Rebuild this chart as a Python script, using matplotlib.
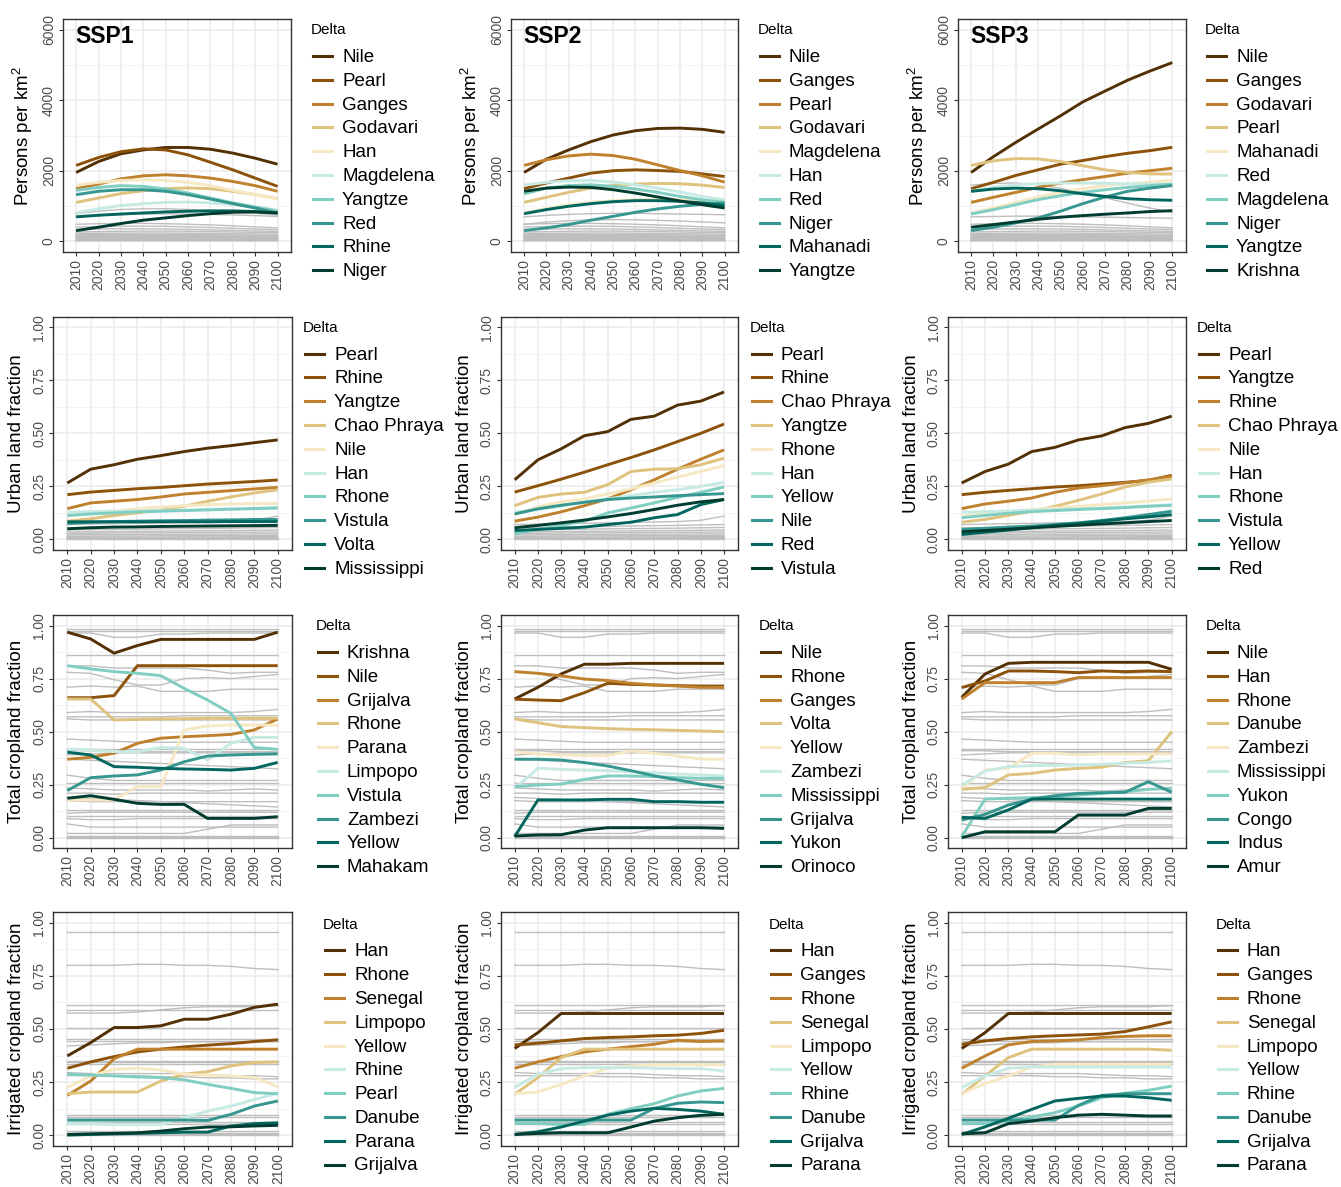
import matplotlib
matplotlib.use("Agg")
import matplotlib.pyplot as plt
from matplotlib.lines import Line2D

plt.rcParams['font.family'] = ['Liberation Sans', 'DejaVu Sans']
plt.rcParams['mathtext.default'] = 'regular'

years = [2010, 2020, 2030, 2040, 2050, 2060, 2070, 2080, 2090, 2100]
ssps = ['SSP1', 'SSP2', 'SSP3']
# BrBG without the middle grey
colors = ['#543005', '#8C510A', '#BF812D', '#DFC27D', '#F6E8C3',
          '#C7EAE5', '#80CDC1', '#35978F', '#01665E', '#003C30']

# ---------------- population density ----------------
pop1_names = ['Nile', 'Pearl', 'Ganges', 'Godavari', 'Han', 'Magdelena', 'Yangtze', 'Red', 'Rhine', 'Niger']
pop1 = [
    [1950, 2260, 2480, 2590, 2660, 2660, 2610, 2500, 2355, 2185],
    [2150, 2375, 2540, 2620, 2590, 2450, 2240, 2025, 1790, 1555],
    [1490, 1620, 1770, 1855, 1885, 1855, 1790, 1695, 1575, 1415],
    [1100, 1225, 1350, 1430, 1490, 1510, 1490, 1415, 1320, 1205],
    [1590, 1670, 1725, 1745, 1725, 1670, 1575, 1440, 1320, 1195],
    [800, 915, 1010, 1065, 1100, 1110, 1085, 1035, 970, 875],
    [1440, 1525, 1575, 1555, 1480, 1365, 1225, 1085, 970, 850],
    [1320, 1415, 1460, 1460, 1415, 1320, 1195, 1065, 940, 800],
    [690, 735, 770, 800, 830, 850, 860, 860, 840, 800],
    [300, 395, 500, 595, 660, 725, 780, 820, 830, 800],
]
pop2_names = ['Nile', 'Ganges', 'Pearl', 'Godavari', 'Magdelena', 'Han', 'Red', 'Niger', 'Mahanadi', 'Yangtze']
pop2 = [
    [1950, 2325, 2590, 2825, 3015, 3135, 3200, 3210, 3175, 3090],
    [1490, 1650, 1790, 1930, 2000, 2025, 2005, 1980, 1910, 1835],
    [2150, 2310, 2420, 2470, 2430, 2325, 2165, 2005, 1855, 1675],
    [1100, 1245, 1385, 1505, 1580, 1620, 1640, 1630, 1590, 1525],
    [800, 930, 1030, 1100, 1150, 1180, 1190, 1180, 1160, 1120],
    [1590, 1670, 1715, 1725, 1675, 1600, 1505, 1395, 1270, 1175],
    [1340, 1505, 1580, 1600, 1555, 1480, 1385, 1270, 1175, 1100],
    [300, 375, 470, 595, 705, 820, 915, 990, 1045, 1085],
    [780, 895, 990, 1065, 1120, 1150, 1150, 1130, 1085, 1010],
    [1415, 1505, 1535, 1525, 1460, 1365, 1255, 1140, 1035, 940],
]
pop3_names = ['Nile', 'Ganges', 'Godavari', 'Pearl', 'Mahanadi', 'Red', 'Magdelena', 'Niger', 'Yangtze', 'Krishna']
pop3 = [
    [1950, 2400, 2805, 3185, 3560, 3955, 4265, 4570, 4830, 5070],
    [1490, 1670, 1865, 2025, 2185, 2290, 2400, 2495, 2570, 2665],
    [1100, 1245, 1385, 1525, 1650, 1745, 1835, 1930, 2000, 2070],
    [2150, 2280, 2345, 2335, 2260, 2140, 2025, 1950, 1910, 1905],
    [800, 940, 1100, 1255, 1385, 1490, 1575, 1630, 1675, 1725],
    [1415, 1535, 1600, 1630, 1650, 1650, 1640, 1630, 1620, 1620],
    [770, 895, 1035, 1180, 1290, 1385, 1460, 1525, 1575, 1620],
    [300, 395, 520, 660, 850, 1065, 1255, 1415, 1505, 1580],
    [1415, 1480, 1505, 1490, 1430, 1345, 1270, 1205, 1175, 1160],
    [395, 470, 545, 620, 680, 725, 765, 800, 840, 865],
]
pop_gray = [
    [480, 495, 505, 505, 495, 480, 460, 435, 405, 375],
    [400, 415, 425, 425, 420, 405, 385, 365, 345, 325],
    [330, 345, 350, 350, 345, 335, 320, 305, 290, 275],
    [260, 270, 280, 285, 285, 280, 270, 260, 250, 240],
    [215, 222, 227, 230, 230, 226, 220, 213, 206, 198],
    [180, 186, 190, 191, 190, 186, 181, 175, 170, 164],
    [150, 155, 158, 160, 160, 158, 155, 150, 146, 142],
    [125, 128, 131, 132, 132, 130, 128, 125, 122, 119],
    [100, 103, 105, 106, 106, 105, 103, 101, 99, 97],
    [80, 82, 84, 85, 85, 84, 83, 81, 79, 77],
    [60, 62, 63, 64, 64, 63, 62, 61, 60, 58],
    [40, 41, 42, 43, 43, 42, 42, 41, 40, 39],
    [22, 23, 24, 24, 24, 24, 23, 23, 22, 22],
    [8, 8, 9, 9, 9, 9, 9, 8, 8, 8],
]
pop1_gray = [
    [780, 850, 900, 920, 920, 900, 870, 830, 790, 740],
    [700, 730, 755, 770, 775, 770, 760, 745, 725, 700],
]
pop2_gray = [
    [690, 730, 760, 780, 790, 790, 780, 770, 760, 750],
    [480, 540, 580, 600, 610, 605, 590, 570, 545, 520],
]
pop3_gray = [
    [1590, 1640, 1650, 1600, 1500, 1370, 1230, 1080, 940, 820],
    [690, 700, 710, 710, 700, 690, 680, 670, 660, 650],
]

# ---------------- urban land fraction ----------------
urb1_names = ['Pearl', 'Rhine', 'Yangtze', 'Chao Phraya', 'Nile', 'Han', 'Rhone', 'Vistula', 'Volta', 'Mississippi']
urb1 = [
    [0.266, 0.331, 0.352, 0.378, 0.395, 0.414, 0.430, 0.442, 0.456, 0.469],
    [0.211, 0.223, 0.231, 0.239, 0.245, 0.253, 0.261, 0.267, 0.273, 0.280],
    [0.145, 0.172, 0.180, 0.188, 0.200, 0.214, 0.222, 0.230, 0.238, 0.245],
    [0.086, 0.097, 0.113, 0.125, 0.138, 0.156, 0.180, 0.200, 0.219, 0.234],
    [0.109, 0.122, 0.133, 0.144, 0.153, 0.159, 0.164, 0.167, 0.169, 0.169],
    [0.128, 0.131, 0.133, 0.134, 0.136, 0.138, 0.141, 0.144, 0.147, 0.150],
    [0.113, 0.120, 0.125, 0.130, 0.133, 0.136, 0.139, 0.142, 0.145, 0.148],
    [0.075, 0.081, 0.084, 0.086, 0.088, 0.089, 0.091, 0.092, 0.094, 0.094],
    [0.083, 0.083, 0.083, 0.083, 0.083, 0.083, 0.083, 0.084, 0.084, 0.084],
    [0.050, 0.055, 0.058, 0.059, 0.061, 0.062, 0.063, 0.064, 0.065, 0.066],
]
urb2_names = ['Pearl', 'Rhine', 'Chao Phraya', 'Yangtze', 'Rhone', 'Han', 'Yellow', 'Nile', 'Red', 'Vistula']
urb2 = [
    [0.281, 0.375, 0.427, 0.489, 0.508, 0.566, 0.581, 0.633, 0.652, 0.695],
    [0.223, 0.253, 0.284, 0.317, 0.352, 0.386, 0.422, 0.461, 0.500, 0.544],
    [0.086, 0.105, 0.130, 0.159, 0.191, 0.234, 0.281, 0.331, 0.378, 0.422],
    [0.159, 0.198, 0.214, 0.222, 0.258, 0.320, 0.331, 0.333, 0.352, 0.383],
    [0.117, 0.153, 0.177, 0.191, 0.214, 0.239, 0.266, 0.294, 0.320, 0.348],
    [0.128, 0.141, 0.156, 0.177, 0.191, 0.206, 0.222, 0.234, 0.250, 0.269],
    [0.027, 0.047, 0.066, 0.086, 0.125, 0.148, 0.172, 0.198, 0.222, 0.247],
    [0.120, 0.144, 0.161, 0.175, 0.188, 0.195, 0.200, 0.206, 0.211, 0.216],
    [0.042, 0.047, 0.052, 0.058, 0.070, 0.081, 0.102, 0.117, 0.164, 0.188],
    [0.055, 0.066, 0.078, 0.091, 0.106, 0.122, 0.141, 0.161, 0.177, 0.188],
]
urb3_names = ['Pearl', 'Yangtze', 'Rhine', 'Chao Phraya', 'Nile', 'Han', 'Rhone', 'Vistula', 'Yellow', 'Red']
urb3 = [
    [0.266, 0.320, 0.355, 0.414, 0.434, 0.469, 0.488, 0.527, 0.547, 0.581],
    [0.211, 0.222, 0.231, 0.239, 0.247, 0.253, 0.261, 0.269, 0.278, 0.302],
    [0.145, 0.167, 0.180, 0.195, 0.222, 0.242, 0.253, 0.266, 0.281, 0.297],
    [0.081, 0.094, 0.113, 0.133, 0.156, 0.184, 0.214, 0.247, 0.270, 0.285],
    [0.109, 0.122, 0.131, 0.141, 0.148, 0.156, 0.164, 0.172, 0.180, 0.191],
    [0.128, 0.131, 0.134, 0.138, 0.141, 0.144, 0.148, 0.153, 0.158, 0.163],
    [0.102, 0.113, 0.123, 0.131, 0.136, 0.141, 0.145, 0.150, 0.156, 0.161],
    [0.047, 0.052, 0.058, 0.063, 0.070, 0.078, 0.089, 0.102, 0.117, 0.133],
    [0.023, 0.034, 0.044, 0.055, 0.066, 0.075, 0.086, 0.097, 0.106, 0.117],
    [0.036, 0.042, 0.048, 0.055, 0.061, 0.067, 0.073, 0.078, 0.084, 0.089],
]
urb_gray = [
    [0.070, 0.072, 0.074, 0.076, 0.078, 0.080, 0.082, 0.084, 0.090, 0.110],
    [0.055, 0.056, 0.058, 0.060, 0.061, 0.063, 0.065, 0.066, 0.068, 0.070],
    [0.045, 0.046, 0.047, 0.048, 0.050, 0.051, 0.052, 0.053, 0.055, 0.056],
    [0.035, 0.036, 0.037, 0.038, 0.039, 0.040, 0.041, 0.042, 0.043, 0.044],
    [0.028, 0.029, 0.030, 0.031, 0.031, 0.032, 0.033, 0.034, 0.034, 0.035],
    [0.021, 0.022, 0.022, 0.023, 0.023, 0.024, 0.025, 0.025, 0.026, 0.026],
    [0.015, 0.015, 0.016, 0.016, 0.017, 0.017, 0.018, 0.018, 0.018, 0.019],
    [0.010, 0.010, 0.011, 0.011, 0.011, 0.012, 0.012, 0.012, 0.013, 0.013],
    [0.006, 0.006, 0.006, 0.007, 0.007, 0.007, 0.007, 0.008, 0.008, 0.008],
    [0.003, 0.003, 0.003, 0.003, 0.003, 0.004, 0.004, 0.004, 0.004, 0.004],
    [0.001, 0.001, 0.001, 0.001, 0.001, 0.001, 0.001, 0.001, 0.001, 0.001],
]

# ---------------- total cropland fraction ----------------
crop1_names = ['Krishna', 'Nile', 'Grijalva', 'Rhone', 'Parana', 'Limpopo', 'Vistula', 'Zambezi', 'Yellow', 'Mahakam']
crop1 = [
    [0.969, 0.937, 0.870, 0.906, 0.935, 0.935, 0.935, 0.935, 0.935, 0.969],
    [0.660, 0.660, 0.670, 0.811, 0.811, 0.811, 0.811, 0.811, 0.811, 0.811],
    [0.370, 0.379, 0.398, 0.445, 0.469, 0.476, 0.481, 0.487, 0.508, 0.560],
    [0.654, 0.654, 0.555, 0.558, 0.560, 0.561, 0.563, 0.563, 0.563, 0.563],
    [0.178, 0.178, 0.178, 0.241, 0.241, 0.508, 0.527, 0.531, 0.531, 0.531],
    [0.418, 0.414, 0.406, 0.406, 0.425, 0.421, 0.366, 0.445, 0.473, 0.473],
    [0.811, 0.796, 0.783, 0.775, 0.764, 0.704, 0.649, 0.586, 0.425, 0.417],
    [0.222, 0.283, 0.291, 0.296, 0.319, 0.358, 0.385, 0.390, 0.393, 0.395],
    [0.403, 0.390, 0.335, 0.332, 0.327, 0.324, 0.322, 0.319, 0.327, 0.355],
    [0.186, 0.198, 0.181, 0.162, 0.157, 0.157, 0.091, 0.091, 0.091, 0.099],
]
crop2_names = ['Nile', 'Rhone', 'Ganges', 'Volta', 'Yellow', 'Zambezi', 'Mississippi', 'Grijalva', 'Yukon', 'Orinoco']
crop2 = [
    [0.654, 0.709, 0.772, 0.818, 0.818, 0.822, 0.822, 0.822, 0.822, 0.822],
    [0.653, 0.649, 0.646, 0.684, 0.728, 0.723, 0.720, 0.717, 0.715, 0.715],
    [0.783, 0.775, 0.763, 0.748, 0.741, 0.728, 0.720, 0.715, 0.709, 0.708],
    [0.560, 0.542, 0.524, 0.519, 0.514, 0.511, 0.509, 0.506, 0.503, 0.500],
    [0.406, 0.395, 0.390, 0.387, 0.387, 0.409, 0.398, 0.385, 0.371, 0.370],
    [0.233, 0.327, 0.322, 0.319, 0.316, 0.311, 0.307, 0.300, 0.296, 0.291],
    [0.241, 0.248, 0.253, 0.275, 0.291, 0.291, 0.288, 0.283, 0.280, 0.280],
    [0.370, 0.370, 0.366, 0.354, 0.338, 0.316, 0.292, 0.272, 0.252, 0.236],
    [0.005, 0.178, 0.178, 0.178, 0.181, 0.181, 0.170, 0.170, 0.167, 0.167],
    [0.008, 0.013, 0.014, 0.036, 0.047, 0.047, 0.047, 0.047, 0.047, 0.044],
]
crop3_names = ['Nile', 'Han', 'Rhone', 'Danube', 'Zambezi', 'Mississippi', 'Yukon', 'Congo', 'Indus', 'Amur']
crop3 = [
    [0.662, 0.772, 0.822, 0.827, 0.827, 0.827, 0.827, 0.827, 0.827, 0.794],
    [0.708, 0.739, 0.786, 0.786, 0.783, 0.778, 0.786, 0.783, 0.786, 0.783],
    [0.654, 0.731, 0.731, 0.731, 0.731, 0.755, 0.755, 0.755, 0.755, 0.755],
    [0.228, 0.237, 0.296, 0.303, 0.319, 0.327, 0.332, 0.354, 0.363, 0.500],
    [0.236, 0.319, 0.327, 0.398, 0.398, 0.390, 0.395, 0.395, 0.395, 0.395],
    [0.248, 0.314, 0.335, 0.340, 0.341, 0.343, 0.346, 0.351, 0.355, 0.362],
    [0.005, 0.182, 0.186, 0.189, 0.193, 0.201, 0.209, 0.217, 0.228, 0.233],
    [0.083, 0.110, 0.154, 0.182, 0.198, 0.209, 0.212, 0.214, 0.264, 0.214],
    [0.096, 0.091, 0.131, 0.182, 0.182, 0.182, 0.182, 0.182, 0.182, 0.182],
    [0.000, 0.028, 0.028, 0.028, 0.028, 0.107, 0.107, 0.107, 0.138, 0.138],
]
crop_gray = [
    [0.985, 0.985, 0.985, 0.985, 0.985, 0.985, 0.985, 0.985, 0.985, 0.985],
    [0.975, 0.975, 0.975, 0.975, 0.975, 0.975, 0.975, 0.975, 0.975, 0.975],
    [0.965, 0.965, 0.945, 0.945, 0.960, 0.960, 0.965, 0.965, 0.965, 0.965],
    [0.860, 0.860, 0.860, 0.860, 0.860, 0.860, 0.860, 0.860, 0.860, 0.860],
    [0.810, 0.810, 0.800, 0.800, 0.800, 0.800, 0.790, 0.775, 0.780, 0.780],
    [0.780, 0.775, 0.745, 0.720, 0.720, 0.750, 0.755, 0.750, 0.760, 0.770],
    [0.710, 0.715, 0.710, 0.715, 0.690, 0.690, 0.690, 0.700, 0.700, 0.700],
    [0.590, 0.595, 0.590, 0.590, 0.590, 0.590, 0.590, 0.590, 0.595, 0.605],
    [0.560, 0.555, 0.555, 0.555, 0.555, 0.555, 0.555, 0.555, 0.555, 0.555],
    [0.570, 0.570, 0.570, 0.570, 0.570, 0.575, 0.575, 0.575, 0.575, 0.575],
    [0.465, 0.460, 0.455, 0.450, 0.450, 0.450, 0.450, 0.450, 0.450, 0.450],
    [0.420, 0.420, 0.420, 0.420, 0.420, 0.420, 0.420, 0.420, 0.420, 0.420],
    [0.410, 0.410, 0.405, 0.405, 0.405, 0.405, 0.405, 0.405, 0.405, 0.405],
    [0.390, 0.395, 0.400, 0.400, 0.400, 0.400, 0.400, 0.400, 0.400, 0.400],
    [0.370, 0.365, 0.360, 0.355, 0.350, 0.345, 0.340, 0.335, 0.330, 0.325],
    [0.295, 0.280, 0.270, 0.270, 0.270, 0.270, 0.270, 0.270, 0.270, 0.270],
    [0.260, 0.260, 0.260, 0.260, 0.260, 0.260, 0.260, 0.260, 0.260, 0.260],
    [0.235, 0.230, 0.225, 0.225, 0.225, 0.225, 0.220, 0.225, 0.230, 0.225],
    [0.210, 0.210, 0.205, 0.210, 0.210, 0.210, 0.210, 0.210, 0.210, 0.210],
    [0.190, 0.185, 0.180, 0.175, 0.170, 0.165, 0.160, 0.155, 0.150, 0.145],
    [0.175, 0.170, 0.170, 0.170, 0.170, 0.170, 0.170, 0.170, 0.170, 0.170],
    [0.130, 0.130, 0.130, 0.130, 0.130, 0.130, 0.130, 0.130, 0.130, 0.130],
    [0.115, 0.120, 0.120, 0.120, 0.120, 0.120, 0.120, 0.120, 0.120, 0.120],
    [0.100, 0.100, 0.100, 0.100, 0.100, 0.100, 0.100, 0.100, 0.100, 0.100],
    [0.090, 0.085, 0.085, 0.090, 0.090, 0.090, 0.090, 0.090, 0.090, 0.090],
    [0.065, 0.050, 0.050, 0.050, 0.050, 0.050, 0.050, 0.050, 0.050, 0.050],
    [0.020, 0.020, 0.020, 0.020, 0.020, 0.020, 0.040, 0.060, 0.060, 0.060],
    [0.010, 0.010, 0.010, 0.010, 0.010, 0.010, 0.010, 0.010, 0.010, 0.010],
    [0.004, 0.004, 0.004, 0.004, 0.004, 0.004, 0.004, 0.004, 0.004, 0.004],
    [0.000, 0.000, 0.000, 0.000, 0.000, 0.000, 0.000, 0.000, 0.000, 0.000],
]

# ---------------- irrigated cropland fraction ----------------
irr1_names = ['Han', 'Rhone', 'Senegal', 'Limpopo', 'Yellow', 'Rhine', 'Pearl', 'Danube', 'Parana', 'Grijalva']
irr1 = [
    [0.373, 0.436, 0.507, 0.507, 0.515, 0.546, 0.546, 0.570, 0.602, 0.617],
    [0.315, 0.345, 0.370, 0.392, 0.405, 0.416, 0.424, 0.431, 0.441, 0.449],
    [0.187, 0.255, 0.360, 0.405, 0.405, 0.405, 0.405, 0.405, 0.405, 0.405],
    [0.195, 0.203, 0.203, 0.203, 0.255, 0.287, 0.299, 0.326, 0.342, 0.345],
    [0.224, 0.279, 0.310, 0.315, 0.307, 0.287, 0.282, 0.279, 0.271, 0.228],
    [0.054, 0.054, 0.050, 0.050, 0.050, 0.082, 0.113, 0.137, 0.168, 0.197],
    [0.287, 0.283, 0.279, 0.274, 0.271, 0.260, 0.239, 0.220, 0.200, 0.195],
    [0.071, 0.071, 0.071, 0.071, 0.071, 0.071, 0.069, 0.098, 0.137, 0.161],
    [0.000, 0.003, 0.006, 0.008, 0.011, 0.014, 0.014, 0.043, 0.054, 0.058],
    [0.003, 0.006, 0.008, 0.011, 0.019, 0.030, 0.038, 0.039, 0.043, 0.046],
]
irr2_names = ['Han', 'Ganges', 'Rhone', 'Senegal', 'Limpopo', 'Yellow', 'Rhine', 'Danube', 'Grijalva', 'Parana']
irr2 = [
    [0.408, 0.483, 0.573, 0.573, 0.573, 0.573, 0.573, 0.573, 0.573, 0.573],
    [0.425, 0.433, 0.444, 0.455, 0.460, 0.463, 0.468, 0.471, 0.479, 0.494],
    [0.315, 0.345, 0.370, 0.392, 0.405, 0.417, 0.428, 0.447, 0.441, 0.444],
    [0.192, 0.271, 0.365, 0.405, 0.405, 0.405, 0.405, 0.405, 0.405, 0.405],
    [0.195, 0.203, 0.239, 0.279, 0.315, 0.326, 0.331, 0.331, 0.331, 0.331],
    [0.224, 0.287, 0.313, 0.318, 0.318, 0.318, 0.315, 0.313, 0.313, 0.302],
    [0.054, 0.054, 0.050, 0.050, 0.098, 0.124, 0.148, 0.184, 0.208, 0.220],
    [0.071, 0.071, 0.071, 0.071, 0.071, 0.071, 0.126, 0.150, 0.156, 0.153],
    [0.003, 0.016, 0.038, 0.066, 0.094, 0.113, 0.126, 0.121, 0.113, 0.098],
    [0.003, 0.008, 0.011, 0.011, 0.011, 0.038, 0.066, 0.082, 0.093, 0.098],
]
irr3_names = ['Han', 'Ganges', 'Rhone', 'Senegal', 'Limpopo', 'Yellow', 'Rhine', 'Danube', 'Grijalva', 'Parana']
irr3 = [
    [0.408, 0.483, 0.573, 0.573, 0.573, 0.573, 0.573, 0.573, 0.573, 0.573],
    [0.428, 0.444, 0.455, 0.463, 0.468, 0.472, 0.476, 0.488, 0.510, 0.534],
    [0.315, 0.373, 0.425, 0.441, 0.444, 0.449, 0.460, 0.465, 0.468, 0.468],
    [0.192, 0.279, 0.365, 0.405, 0.405, 0.405, 0.405, 0.405, 0.405, 0.400],
    [0.195, 0.243, 0.279, 0.321, 0.334, 0.334, 0.334, 0.334, 0.334, 0.334],
    [0.224, 0.279, 0.315, 0.321, 0.321, 0.321, 0.321, 0.321, 0.321, 0.321],
    [0.054, 0.054, 0.066, 0.085, 0.106, 0.137, 0.176, 0.197, 0.211, 0.231],
    [0.071, 0.071, 0.071, 0.071, 0.071, 0.140, 0.187, 0.195, 0.195, 0.195],
    [0.003, 0.039, 0.079, 0.121, 0.161, 0.173, 0.184, 0.184, 0.176, 0.164],
    [0.006, 0.011, 0.054, 0.066, 0.082, 0.094, 0.098, 0.094, 0.090, 0.090],
]
irr_gray = [
    [0.955, 0.955, 0.955, 0.955, 0.955, 0.955, 0.955, 0.955, 0.955, 0.955],
    [0.800, 0.800, 0.800, 0.805, 0.805, 0.800, 0.800, 0.795, 0.785, 0.780],
    [0.615, 0.615, 0.615, 0.615, 0.615, 0.615, 0.615, 0.615, 0.615, 0.615],
    [0.590, 0.590, 0.590, 0.590, 0.590, 0.590, 0.590, 0.590, 0.590, 0.590],
    [0.575, 0.575, 0.575, 0.580, 0.590, 0.600, 0.605, 0.605, 0.605, 0.610],
    [0.505, 0.505, 0.505, 0.505, 0.505, 0.505, 0.505, 0.505, 0.505, 0.505],
    [0.455, 0.455, 0.455, 0.455, 0.455, 0.455, 0.455, 0.455, 0.455, 0.455],
    [0.445, 0.445, 0.445, 0.445, 0.445, 0.445, 0.445, 0.445, 0.445, 0.445],
    [0.420, 0.425, 0.430, 0.435, 0.435, 0.440, 0.440, 0.440, 0.440, 0.440],
    [0.350, 0.350, 0.350, 0.350, 0.350, 0.350, 0.350, 0.350, 0.350, 0.350],
    [0.345, 0.345, 0.345, 0.345, 0.345, 0.345, 0.345, 0.345, 0.345, 0.345],
    [0.335, 0.335, 0.335, 0.335, 0.335, 0.335, 0.335, 0.335, 0.335, 0.335],
    [0.295, 0.290, 0.290, 0.290, 0.290, 0.290, 0.285, 0.280, 0.280, 0.275],
    [0.280, 0.280, 0.280, 0.280, 0.275, 0.275, 0.270, 0.270, 0.265, 0.265],
    [0.095, 0.095, 0.095, 0.095, 0.095, 0.095, 0.095, 0.095, 0.095, 0.095],
    [0.085, 0.085, 0.085, 0.085, 0.085, 0.085, 0.085, 0.085, 0.085, 0.085],
    [0.060, 0.060, 0.060, 0.060, 0.060, 0.060, 0.060, 0.060, 0.060, 0.060],
    [0.050, 0.050, 0.050, 0.050, 0.050, 0.050, 0.050, 0.050, 0.050, 0.050],
    [0.020, 0.020, 0.020, 0.020, 0.020, 0.020, 0.020, 0.020, 0.020, 0.020],
    [0.012, 0.012, 0.012, 0.012, 0.012, 0.012, 0.012, 0.012, 0.012, 0.012],
    [0.005, 0.005, 0.005, 0.005, 0.005, 0.005, 0.005, 0.005, 0.005, 0.005],
    [0.000, 0.000, 0.000, 0.000, 0.000, 0.000, 0.000, 0.000, 0.000, 0.000],
]

# ---------------- layout (pixels) ----------------
W, H = 1341, 1187
fig = plt.figure(figsize=(W / 100, H / 100), dpi=100)

col_lr = {
    0: [(62.7, 291.0), (510.7, 738.0), (957.7, 1185.7)],
    1: [(53.3, 291.7), (500.7, 738.0), (947.7, 1185.7)],
    2: [(53.3, 291.7), (500.7, 738.0), (947.7, 1185.7)],
    3: [(53.3, 292.0), (500.7, 738.0), (947.7, 1185.7)],
}
row_tb = [(19.3, 251.7), (316.7, 550.0), (615.0, 848.3), (912.3, 1145.7)]
leg_x = [[313, 760, 1207], [305, 752, 1199], [318, 761, 1208], [325, 771, 1218]]
leg_y = [(29.5, 56.0), (327.8, 353.6), (626.2, 652.0), (924.8, 950.3)]

rows = [
    ('Persons per km$^2$', [(pop1_names, pop1, pop1_gray), (pop2_names, pop2, pop2_gray), (pop3_names, pop3, pop3_gray)], pop_gray),
    ('Urban land fraction', [(urb1_names, urb1, []), (urb2_names, urb2, []), (urb3_names, urb3, [])], urb_gray),
    ('Total cropland fraction', [(crop1_names, crop1, []), (crop2_names, crop2, []), (crop3_names, crop3, [])], crop_gray),
    ('Irrigated cropland fraction', [(irr1_names, irr1, []), (irr2_names, irr2, []), (irr3_names, irr3, [])], irr_gray),
]

for r, (ylabel, panels, gray) in enumerate(rows):
    top, bot = row_tb[r]
    for c, (names, vals, extra) in enumerate(panels):
        left, right = col_lr[r][c]
        ax = fig.add_axes([left / W, 1 - bot / H, (right - left) / W, (bot - top) / H])
        for g in gray + extra:
            ax.plot(years, g, color='#BEBEBE', lw=1.0, zorder=2)
        for name, v, col in zip(names, vals, colors):
            ax.plot(years, v, color=col, lw=2.1, zorder=3, solid_capstyle='butt')

        ax.set_xlim(2004, 2106)
        ax.set_xticks(years)
        ax.set_xticklabels([str(y) for y in years], rotation=90)
        if r == 0:
            ax.set_ylim(-300, 6300)
            ax.set_yticks([0, 2000, 4000, 6000])
            ax.set_yticks([1000, 3000, 5000], minor=True)
        else:
            ax.set_ylim(-0.05, 1.05)
            ax.set_yticks([0, 0.25, 0.5, 0.75, 1.0])
            ax.set_yticklabels(['0.00', '0.25', '0.50', '0.75', '1.00'])
            ax.set_yticks([0.125, 0.375, 0.625, 0.875], minor=True)
        for lab in ax.get_yticklabels():
            lab.set_rotation(90)
            lab.set_va('center')
        ax.grid(True, which='major', color='#EBEBEB', lw=1.1, zorder=0)
        ax.grid(True, which='minor', axis='y', color='#F2F2F2', lw=0.6, zorder=0)
        ax.set_axisbelow(True)
        ax.tick_params(which='major', length=3, width=0.8, color='#333333',
                       labelsize=10, labelcolor='#4D4D4D', pad=2)
        ax.tick_params(which='minor', length=0)
        for sp in ax.spines.values():
            sp.set_color('#333333')
            sp.set_linewidth(1.0)
        ax.set_ylabel(ylabel, fontsize=13.5, labelpad=5)
        if r == 0:
            ax.text(0.054, 0.925, ssps[c], transform=ax.transAxes, fontsize=16.5,
                    fontweight='bold', va='center', ha='left')

        # legend
        lx = leg_x[r][c]
        ty, fy = leg_y[r]
        fig.text((lx - 2) / W, 1 - ty / H, 'Delta', fontsize=11, va='center', ha='left')
        for i, (name, col) in enumerate(zip(names, colors)):
            yk = 1 - (fy + i * 23.8) / H
            yt = 1 - (fy + 1.5 + i * 23.8) / H
            fig.add_artist(Line2D([lx / W, (lx + 19) / W], [yk, yk], color=col, lw=2.2))
            fig.text((lx + 29) / W, yt, name, fontsize=13.5, va='center', ha='left')

fig.savefig('out.png', dpi=100)
